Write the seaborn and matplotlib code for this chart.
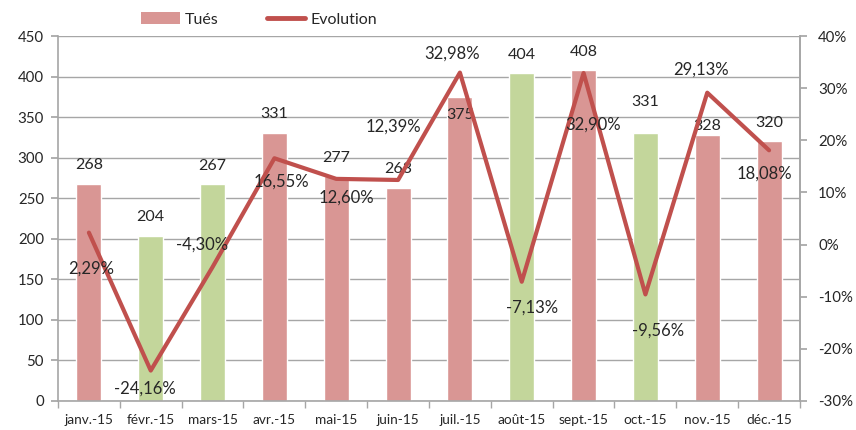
import matplotlib
matplotlib.use("Agg")
import matplotlib.pyplot as plt
from matplotlib.patches import Patch
from matplotlib.lines import Line2D
from matplotlib.ticker import FuncFormatter, FixedLocator
import numpy as np
import pandas as pd
import seaborn as sns

months = ["janv.-15", "févr.-15", "mars-15", "avr.-15", "mai-15", "juin-15",
          "juil.-15", "août-15", "sept.-15", "oct.-15", "nov.-15", "déc.-15"]
tues = [268, 204, 267, 331, 277, 263, 375, 404, 408, 331, 328, 320]
evolution = [2.29, -24.16, -4.30, 16.55, 12.60, 12.39, 32.98, -7.13, 32.90, -9.56, 29.13, 18.08]
bar_colors = ["#D99694", "#C3D69B", "#C3D69B", "#D99694", "#D99694", "#D99694",
              "#D99694", "#C3D69B", "#D99694", "#C3D69B", "#D99694", "#D99694"]

# label placement, in pixels relative to the mark (x right, y up)
bar_label_dy = [18.5, 18.5, 18.5, 19, 18, 18.5, -18, 18.5, 18, 31, 9, 18]
pct_label_off = [(2, -36), (-6, -18), (-11, 22), (7, -23), (10, -19), (-5, 53),
                 (-8, 19), (10, -26), (10, -52), (13, -36), (-6, 23), (-5, -23)]

sns.set_theme(style="white")
plt.rcParams["font.family"] = ["Lato", "DejaVu Sans"]

DPI = 100
PX = 72 / DPI  # points per pixel
grid_c = "#A6A6A6"
text_c = "#262626"
line_c = "#C0504D"

fig = plt.figure(figsize=(8.56, 4.30), dpi=DPI)
ax = fig.add_axes([58 / 856, 1 - 401 / 430, 742 / 856, 365 / 430])

df = pd.DataFrame({"mois": months, "tues": tues})
sns.barplot(data=df, x="mois", y="tues", hue="mois", palette=bar_colors,
            legend=False, width=0.405, ax=ax, saturation=1)

ax.set_ylim(0, 450)
ax.set_xlim(-0.5, 11.5)
ax.set_yticks(np.arange(0, 451, 50))
ax.yaxis.grid(True, color=grid_c, linewidth=1)
ax.set_axisbelow(True)
ax.set_xlabel("")
ax.set_ylabel("")
ax.spines["top"].set_visible(False)
for s in ["left", "bottom", "right"]:
    ax.spines[s].set_color(grid_c)
    ax.spines[s].set_linewidth(1.2)
ax.tick_params(axis="y", which="major", left=True, length=5, color=grid_c,
               labelsize=10.8, labelcolor=text_c, pad=5)
ax.tick_params(axis="x", which="major", length=0, labelsize=9.8,
               labelcolor=text_c, pad=9)
ax.xaxis.set_minor_locator(FixedLocator(np.arange(-0.5, 12, 1)))
ax.tick_params(axis="x", which="minor", bottom=True, length=5, color=grid_c)

for i, v in enumerate(tues):
    ax.annotate(str(v), (i, v), xytext=(0, bar_label_dy[i] * PX),
                textcoords="offset points", ha="center", va="center",
                fontsize=11.5, color=text_c)

ax2 = ax.twinx()
sns.lineplot(x=np.arange(len(evolution)), y=evolution, ax=ax2, color=line_c,
             linewidth=3.0, sort=False)
ax2.set_ylim(-30, 40)
ax2.set_yticks(np.arange(-30, 41, 10))
ax2.yaxis.set_major_formatter(FuncFormatter(lambda v, p: f"{v:.0f}%"))
for s in ["top", "left", "bottom"]:
    ax2.spines[s].set_visible(False)
ax2.spines["right"].set_color(grid_c)
ax2.spines["right"].set_linewidth(1.2)
ax2.tick_params(axis="y", right=True, length=5, color=grid_c, labelsize=10.8,
                labelcolor=text_c, pad=8)
ax2.set_ylabel("")

for i, v in enumerate(evolution):
    dx, dy = pct_label_off[i]
    ax2.annotate(f"{v:.2f}%".replace(".", ","), (i, v), xytext=(dx * PX, dy * PX),
                 textcoords="offset points", ha="center", va="center",
                 fontsize=12, color=text_c)

handles = [Patch(facecolor="#D99694", edgecolor="none"),
           Line2D([0], [0], color=line_c, linewidth=3.5)]
fig.legend(handles, ["Tués", "Evolution"], loc="center", ncol=2,
           bbox_to_anchor=(0.303, 0.955), frameon=False, fontsize=11.5,
           handlelength=2.4, handleheight=0.75, columnspacing=3.0,
           handletextpad=0.35)

fig.savefig("out.png", dpi=DPI)
